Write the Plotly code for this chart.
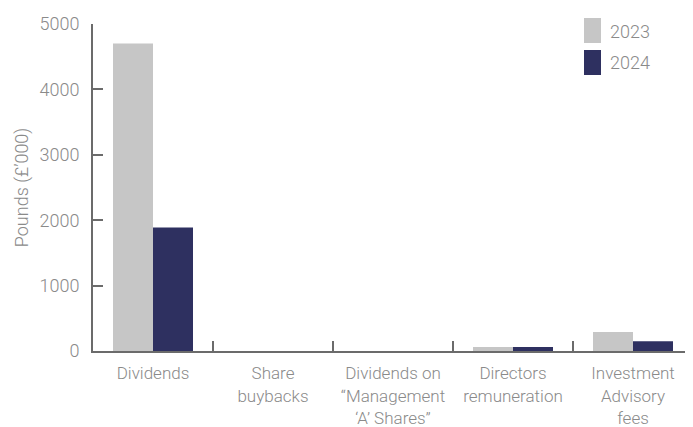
import plotly.graph_objects as go

categories = ["Dividends", "Share<br>buybacks", "Dividends on<br>“Management<br>‘A’ Shares”",
              "Directors<br>remuneration", "Investment<br>Advisory<br>fees"]
values_2023 = [4700, 0, 0, 60, 290]
values_2024 = [1890, 0, 0, 60, 150]
years = ["2023", "2024"]
colors = ["#c6c6c6", "#2e3060"]

W, H = 685, 419
L, T, B = 85, 16, 76
PW, PH = W - L, H - T - B

fig = go.Figure()
for name, vals, col in zip(years, [values_2023, values_2024], colors):
    fig.add_trace(go.Bar(x=categories, y=vals, name=name, marker_color=col,
                         marker_line_width=0, showlegend=False))

# manual legend (pixel positions converted to paper coords)
def px_x(x):
    return (x - L) / PW

def px_y(y):
    return (H - B - y) / PH

for i, (name, col) in enumerate(zip(years, colors)):
    top = 10 + i * 32
    fig.add_shape(type="rect", xref="paper", yref="paper",
                  x0=px_x(576), x1=px_x(593), y0=px_y(top + 25), y1=px_y(top),
                  fillcolor=col, line_width=0)
    fig.add_annotation(xref="paper", yref="paper", x=px_x(600), y=px_y(top + 13),
                       text=name, showarrow=False, xanchor="left", yanchor="middle",
                       font=dict(size=18, color="#8a8a8a", weight=300))

font_lab = dict(family="Roboto", size=17, color="#8a8a8a", weight=300)

fig.update_layout(
    width=W, height=H,
    margin=dict(l=L, r=0, t=T, b=B, autoexpand=False),
    paper_bgcolor="white", plot_bgcolor="white",
    barmode="group", bargap=1/3, bargroupgap=0,
    font=font_lab,
)
fig.update_xaxes(showline=True, linecolor="#6b6b6b", linewidth=2,
                 ticks="inside", tickson="boundaries", ticklen=10, tickwidth=2,
                 tickcolor="#6b6b6b", tickfont=font_lab, ticklabelstandoff=6,
                 tickangle=0, showgrid=False, automargin=False)
fig.update_yaxes(range=[0, 5000], showline=True, linecolor="#6b6b6b", linewidth=2,
                 ticks="inside", ticklen=10, tickwidth=1.5, tickcolor="#6b6b6b",
                 tickvals=[0, 1000, 2000, 3000, 4000, 5000], showgrid=False,
                 zeroline=False, tickfont=dict(font_lab, size=18), ticklabelstandoff=8,
                 automargin=False,
                 title=dict(text="Pounds (£’000)", font=dict(font_lab, size=18), standoff=6))

fig.write_html("out.html")
